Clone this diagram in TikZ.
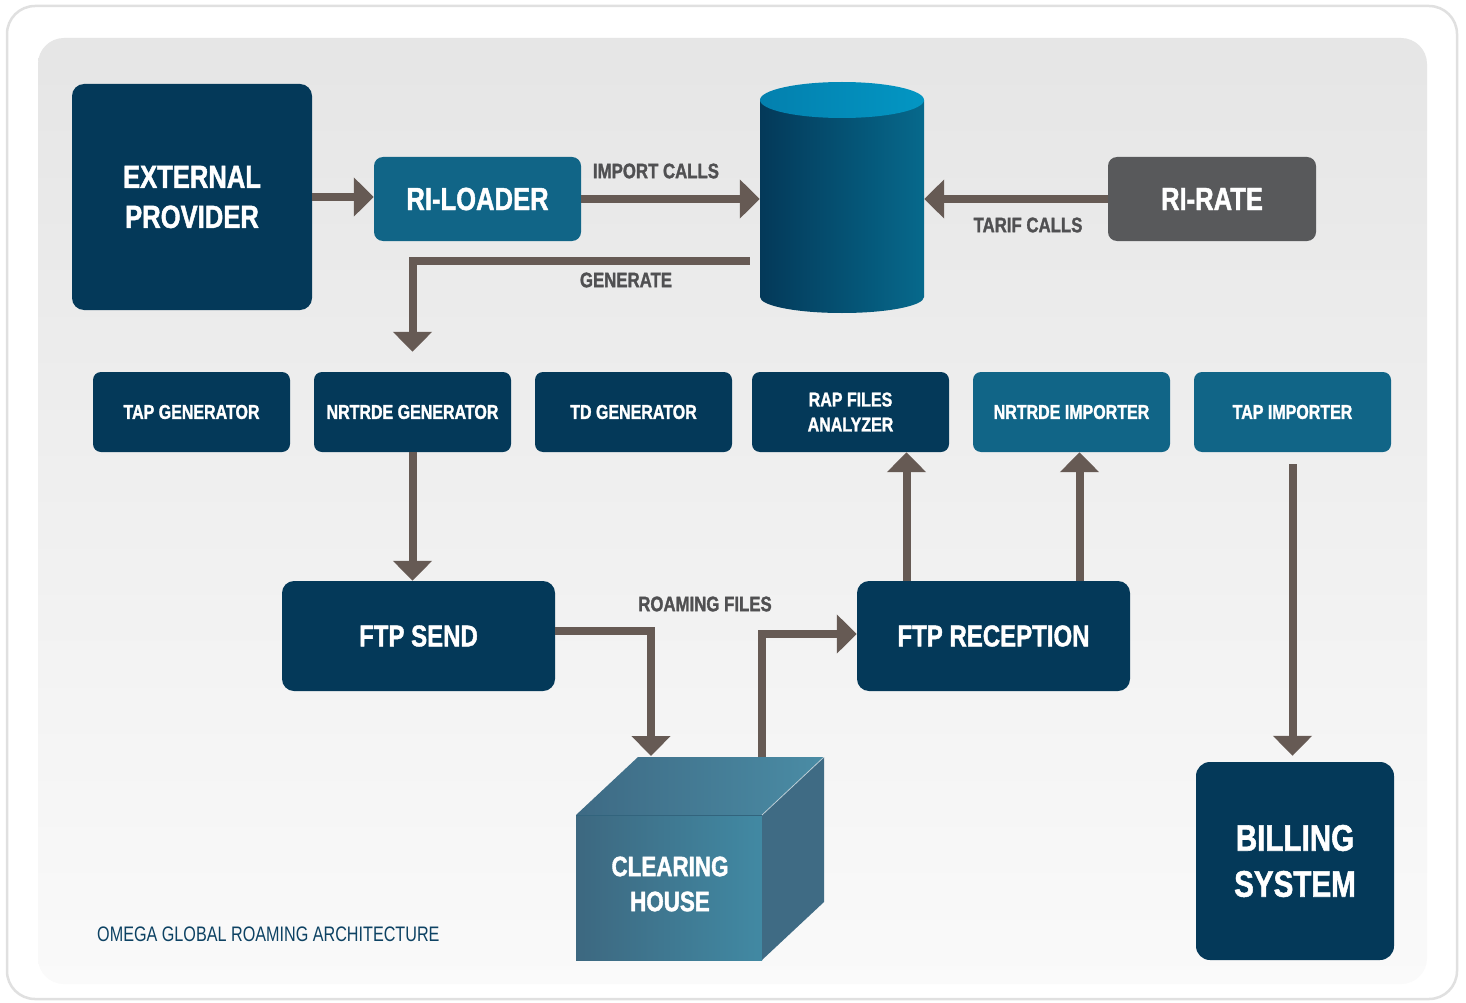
\documentclass[tikz,border=0pt]{standalone}
\usepackage{fontspec}
\setmainfont{Liberation Sans}[FakeStretch=0.77]
\newfontfamily\heavy{Liberation Sans}[UprightFont={* Bold}, FakeStretch=0.80, FakeBold=1.4]
\usetikzlibrary{arrows.meta,calc}
\definecolor{navy}{HTML}{043959}
\definecolor{teal}{HTML}{116587}
\definecolor{slate}{HTML}{58595B}
\definecolor{arrowc}{HTML}{665A54}
\definecolor{lblc}{HTML}{505052}
\definecolor{capc}{HTML}{0D4263}
\definecolor{dbright}{RGB}{6,105,140}
\definecolor{dbtopl}{RGB}{3,128,174}
\definecolor{dbtopr}{RGB}{3,150,195}
\definecolor{cubetopl}{RGB}{62,106,132}
\definecolor{cubetopr}{RGB}{74,140,165}
\definecolor{cubefl}{RGB}{61,104,128}
\definecolor{cubefr}{RGB}{65,137,163}
\definecolor{cubeside}{RGB}{63,107,132}
\definecolor{cubeedge}{RGB}{50,100,125}
\tikzset{
  box/.style={rounded corners=8pt, fill=navy, text=white, align=center, inner sep=0pt,
    font=\heavy\fontsize{20}{25}\selectfont},
  smallbox/.style={box, minimum width=197pt, minimum height=80pt},
  bigbox/.style={box, rounded corners=12pt, font=\heavy\fontsize{32}{40}\selectfont},
  arr/.style={draw=arrowc, line width=8pt, -{Triangle[length=20pt,width=38pt]}},
  lbl/.style={text=lblc, font=\heavy\fontsize{21}{21}\selectfont, inner sep=0pt},
}
\begin{document}
\begin{tikzpicture}[x=1pt,y=-1pt]
\useasboundingbox (0,0) rectangle (1466,1003);
% frame
\fill[white] (0,0) rectangle (1466,1003);
\draw[draw=black!12, line width=2.5pt, rounded corners=28pt] (7,6) rectangle (1457,999);
\shade[rounded corners=26pt, top color=black!10, middle color=black!7, bottom color=black!2]
  (38,38) rectangle (1427,984);

% top row
\node[bigbox, minimum width=240pt, minimum height=226pt] (ep) at (192,197) {EXTERNAL\\PROVIDER};
\node[bigbox, fill=teal, rounded corners=9pt, minimum width=207pt, minimum height=84pt] (ril) at (477.5,199) {RI-LOADER};
\node[bigbox, fill=slate, rounded corners=9pt, minimum width=208pt, minimum height=84pt] (rir) at (1212,199) {RI-RATE};

% database cylinder
\shade[left color=navy, right color=dbright]
  (760pt,-100pt) -- (760pt,-297pt) arc[start angle=180, end angle=360, x radius=82pt, y radius=16pt]
  -- (924pt,-100pt) -- cycle;
\shade[left color=dbtopl, right color=dbtopr]
  (842,100) ellipse [x radius=82pt, y radius=18pt];
\node[minimum width=164pt, minimum height=230pt, inner sep=0pt] (db) at (842,197) {};

% second row
\node[smallbox] (tapg) at (191.5,412) {TAP GENERATOR};
\node[smallbox] (ngen) at (412.5,412) {NRTRDE GENERATOR};
\node[smallbox] (tdg) at (633.5,412) {TD GENERATOR};
\node[smallbox] (rap) at (850.5,412) {RAP FILES\\ANALYZER};
\node[smallbox, fill=teal] (nimp) at (1071.5,412) {NRTRDE IMPORTER};
\node[smallbox, fill=teal] (tapi) at (1292.5,412) {TAP IMPORTER};

% third row
\node[box, rounded corners=12pt, minimum width=273pt, minimum height=110pt,
  font=\heavy\fontsize{30}{36}\selectfont] (fsend) at (418.5,636) {FTP SEND};
\node[box, rounded corners=12pt, minimum width=273pt, minimum height=110pt,
  font=\heavy\fontsize{30}{36}\selectfont] (frec) at (993.5,636) {FTP RECEPTION};

% clearing house cube
\shade[left color=cubetopl, right color=cubetopr]
  (576,815) -- (638,757) -- (824,757) -- (762,815) -- cycle;
\shade[left color=cubefl, right color=cubefr]
  (576,815) rectangle (762,960);
\fill[cubeside] (762,815) -- (824,757) -- (824,902) -- (762,960) -- cycle;
\draw[white, opacity=0.6, line width=0.8pt] (762,815) -- (824,757);
\draw[cubeedge, line width=0.8pt] (576,815) -- (762,815);
\node[text=white, align=center, inner sep=0pt, font=\heavy\fontsize{28}{35}\selectfont] (ch) at (670,884) {CLEARING\\HOUSE};
\coordinate (chin) at (651,756);
\coordinate (chout) at (762,757);

% billing
\node[bigbox, rounded corners=14pt, minimum width=198pt, minimum height=198pt,
  font=\heavy\fontsize{37}{46}\selectfont] (bill) at (1295,861) {BILLING\\SYSTEM};

% connectors
\draw[arr] (ep.east) -- (ep.east -| ril.west);
\draw[arr] (ril.east) -- (ril.east -| db.west);
\draw[arr] (rir.west) -- (rir.west -| db.east);
\draw[arr] ([shift={(-10pt,-64pt)}]db.west) -| ([yshift=20pt]ngen.north);
\draw[arr] (ngen.south) -- (ngen.south |- fsend.north);
\draw[arr] ([yshift=5pt]fsend.east) -| (chin);
\draw[arr] (chout) |- ([yshift=2pt]frec.west);
\draw[arr] ([xshift=-87pt]frec.north) -- ([xshift=-87pt]frec.north |- rap.south);
\draw[arr] ([xshift=86pt]frec.north) -- ([xshift=86pt]frec.north |- nimp.south);
\draw[arr, shorten <=12pt, shorten >=6pt] (tapi.south) -- (tapi.south |- bill.north);

% labels
\node[lbl] (limp) at (656,171) {IMPORT CALLS};
\node[lbl] (ltar) at (1028,225) {TARIF CALLS};
\node[lbl] (lgen) at (626,280) {GENERATE};
\node[lbl] (lroam) at (705,604) {ROAMING FILES};

\node[anchor=base west, inner sep=0pt, text=capc, font=\fontsize{21}{21}\selectfont] (cap) at (97,941)
  {OMEGA GLOBAL ROAMING ARCHITECTURE};
\end{tikzpicture}
\end{document}
